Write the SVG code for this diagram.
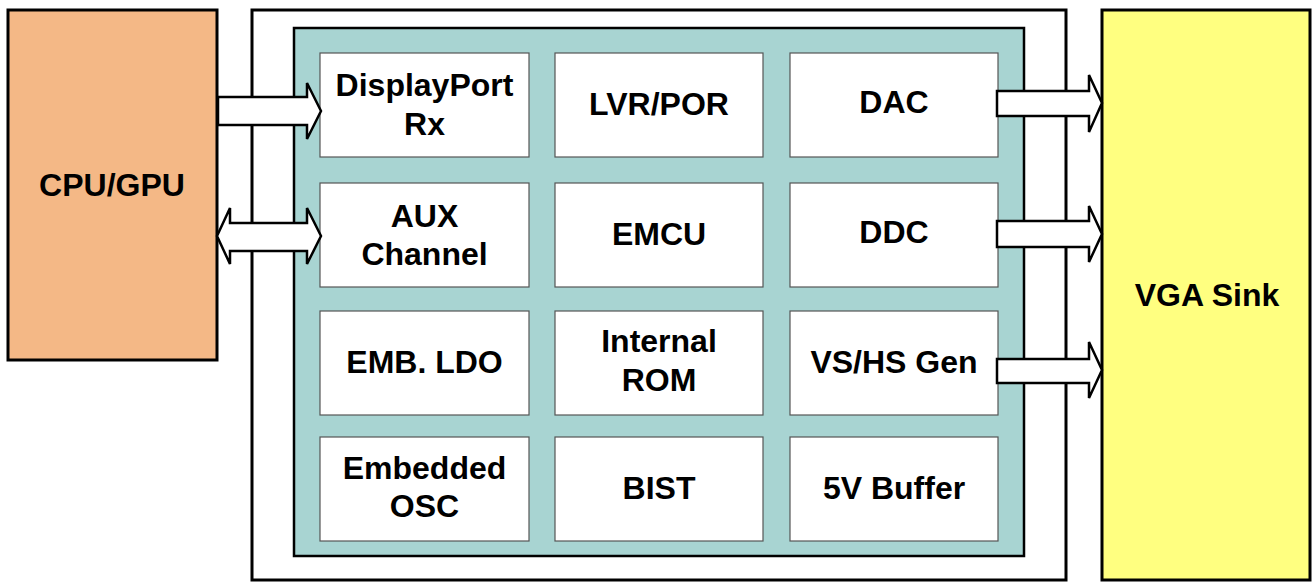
<svg xmlns="http://www.w3.org/2000/svg" width="1313" height="583" viewBox="0 0 1313 583">
<style>
  .t{font-family:"Liberation Sans",Arial,Helvetica,sans-serif;font-weight:bold;font-size:32px;fill:#000;text-anchor:middle}
  .blk{fill:#fff;stroke:#555;stroke-width:1.2}
  .big{stroke:#000;stroke-width:3}
  .arr{fill:#fff;stroke:#000;stroke-width:2.5;stroke-linejoin:miter}
</style>
<rect width="1313" height="583" fill="#fff"/>
<g id="cpu">
  <rect class="big" x="8" y="10" width="209" height="350" fill="#F4B886"/>
  <text class="t" x="112" y="196">CPU/GPU</text>
</g>
<g id="chip">
  <rect class="big" x="252" y="10" width="814" height="570" fill="#fff"/>
  <rect x="294" y="28" width="730" height="528" fill="#A8D4D2" stroke="#000" stroke-width="2.5"/>
</g>
<g id="vga">
  <rect class="big" x="1102" y="10" width="208" height="570" fill="#FFFF80"/>
  <text class="t" x="1207" y="306">VGA Sink</text>
</g>
<g id="dprx"><rect class="blk" x="320" y="53" width="209" height="104"/><text class="t" x="424.5" y="96">DisplayPort</text><text class="t" x="424.5" y="135">Rx</text></g>
<g id="lvr"><rect class="blk" x="555" y="53" width="208" height="104"/><text class="t" x="659" y="115">LVR/POR</text></g>
<g id="dac"><rect class="blk" x="790" y="53" width="208" height="104"/><text class="t" x="894" y="113">DAC</text></g>
<g id="aux"><rect class="blk" x="320" y="183" width="209" height="104"/><text class="t" x="424.5" y="227">AUX</text><text class="t" x="424.5" y="265">Channel</text></g>
<g id="emcu"><rect class="blk" x="555" y="183" width="208" height="104"/><text class="t" x="659" y="245">EMCU</text></g>
<g id="ddc"><rect class="blk" x="790" y="183" width="208" height="104"/><text class="t" x="894" y="243">DDC</text></g>
<g id="ldo"><rect class="blk" x="320" y="311" width="209" height="104"/><text class="t" x="424.5" y="373">EMB. LDO</text></g>
<g id="rom"><rect class="blk" x="555" y="311" width="208" height="104"/><text class="t" x="659" y="352">Internal</text><text class="t" x="659" y="391">ROM</text></g>
<g id="vshs"><rect class="blk" x="790" y="311" width="208" height="104"/><text class="t" x="894" y="373">VS/HS Gen</text></g>
<g id="osc"><rect class="blk" x="320" y="437" width="209" height="104"/><text class="t" x="424.5" y="479">Embedded</text><text class="t" x="424.5" y="517">OSC</text></g>
<g id="bist"><rect class="blk" x="555" y="437" width="208" height="104"/><text class="t" x="659" y="499">BIST</text></g>
<g id="buf"><rect class="blk" x="790" y="437" width="208" height="104"/><text class="t" x="894" y="499">5V Buffer</text></g>
<g id="connectors">
  <polygon class="arr" points="218,97 307,97 307,83 321,111 307,139 307,125 218,125"/>
  <polygon class="arr" points="217,236 230,208 230,223 307,223 307,208 321,236 307,264 307,251 230,251 230,264"/>
  <polygon class="arr" points="997,91 1089,91 1089,75 1102,103 1089,132 1089,116 997,116"/>
  <polygon class="arr" points="997,221 1089,221 1089,206 1102,234 1089,262 1089,247 997,247"/>
  <polygon class="arr" points="997,359 1089,359 1089,342 1102,370 1089,398 1089,383 997,383"/>
</g>
</svg>
